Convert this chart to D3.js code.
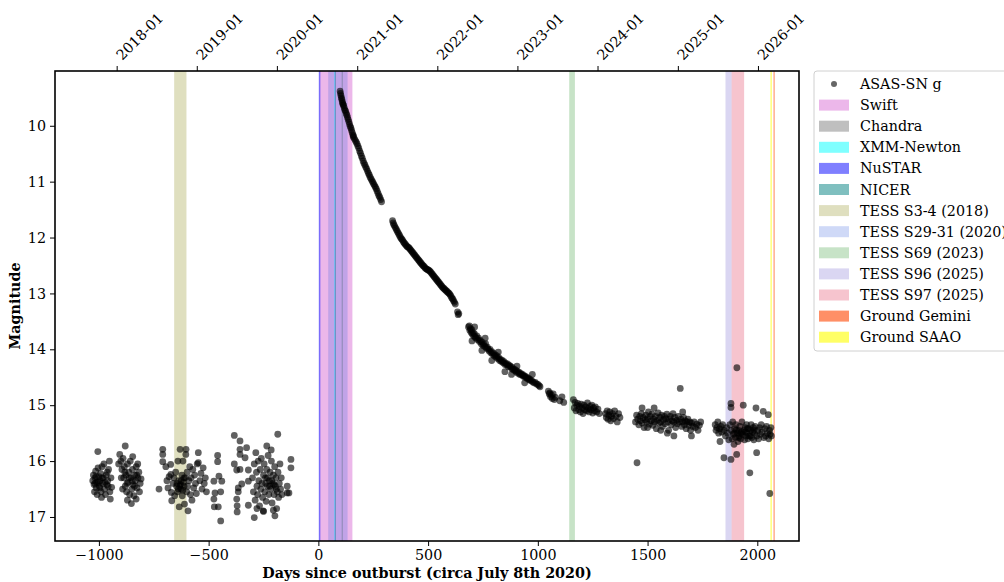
<!DOCTYPE html>
<html>
<head>
<meta charset="utf-8">
<script src="https://cdn.jsdelivr.net/npm/d3@7"></script>
<style>
  body { margin: 0; background: #fff; }
  svg text { font-family: "DejaVu Serif", "Liberation Serif", serif; }
</style>
</head>
<body>
<div id="chart"></div>
<script>
// ASAS-SN g photometry, [days since outburst, magnitude]
const quietPoints = [
  [-1005,15.83],[-1025,16.25],[-1022,16.42],[-1020,16.55],[-1018,16.3],[-1015,16.18],[-1012,16.48],[-1010,16.38],
  [-1008,16.6],[-1004,16.12],[-1000,16.28],[-998,16.45],[-995,16.35],[-992,16.22],[-990,16.55],[-986,16.1],
  [-983,16.4],[-980,16.3],[-977,16.05],[-974,16.5],[-970,16.6],[-967,16.25],[-964,16.42],[-960,16.35],
  [-956,16.15],[-952,16.0],[-950,16.55],[-948,16.68],[-945,16.3],[-942,16.47],[-988,16.65],[-1028,16.35],
  [-1018,16.4],[-1012,16.28],[-1002,16.38],[-996,16.48],[-985,16.3],[-972,16.38],[-962,16.2],[-958,16.45],
  [-880,15.73],[-905,15.88],[-910,16.05],[-900,16.0],[-895,16.15],[-890,15.95],[-887,16.3],[-884,16.1],
  [-880,16.45],[-877,16.25],[-874,16.55],[-870,16.05],[-867,16.38],[-864,16.2],[-860,16.6],[-857,16.0],
  [-854,16.3],[-850,16.5],[-847,16.15],[-844,16.42],[-840,16.62],[-837,16.25],[-834,16.35],[-830,16.1],
  [-826,16.48],[-822,16.3],[-818,16.2],[-815,16.55],[-812,16.4],[-852,16.76],[-830,16.68],[-846,15.92],
  [-823,16.05],[-808,16.32],[-892,16.5],[-870,16.7],[-898,16.3],[-882,16.2],[-872,16.4],[-862,16.3],
  [-848,16.35],[-838,16.45],[-828,16.25],
  [-726,16.5],[-709,15.79],[-709,15.88],[-709,16.01],[-695,16.1],[-690,16.35],[-685,16.48],[-680,16.28],
  [-673,16.06],[-672,16.24],[-670,16.56],[-668,16.71],[-662,16.4],[-658,16.3],[-655,16.62],[-650,16.2],
  [-646,16.45],[-642,16.55],[-640,16.0],[-636,16.35],[-634,16.82],[-630,15.79],[-628,16.42],[-626,16.5],
  [-622,16.25],[-620,16.62],[-617,16.0],[-615,16.38],[-612,16.45],[-610,16.77],[-607,16.3],[-604,15.88],
  [-603,15.79],[-600,16.55],[-598,16.2],[-596,16.45],[-594,16.89],[-590,16.35],[-586,16.1],[-583,16.6],
  [-580,16.3],[-576,16.7],[-572,16.15],[-568,16.48],[-564,16.25],[-560,16.4],[-556,16.58],[-552,16.05],
  [-547,15.85],[-547,16.03],[-540,16.35],[-535,16.22],[-530,16.5],[-525,16.12],[-520,16.4],[-515,16.3],[-510,16.55],
  [-644,16.4],[-638,16.5],[-632,16.45],[-625,16.35],[-618,16.52],[-612,16.3],
  [-459,15.9],[-459,16.01],[-453,16.27],[-476,16.36],[-440,16.36],[-445,16.55],[-471,16.57],[-476,16.68],
  [-456,16.82],[-474,16.82],[-445,17.07],
  [-383,15.54],[-357,15.64],[-357,15.79],[-357,15.88],[-327,15.76],[-334,15.94],[-383,16.05],[-372,16.16],
  [-357,16.15],[-319,16.16],[-319,16.36],[-349,16.41],[-365,16.48],[-365,16.55],[-372,16.68],[-370,16.8],
  [-370,16.91],[-319,16.79],[-292,17.01],[-235,15.73],[-185,15.52],[-198,16.98],[-251,16.89],[-125,15.97],
  [-125,16.12],[-142,16.45],[-142,16.57],[-134,16.57],
  [-300,16.3],[-296,16.55],[-292,16.05],[-288,16.7],[-285,15.85],[-282,16.2],[-280,16.45],[-277,16.6],
  [-274,16.0],[-271,16.35],[-268,16.8],[-265,16.15],[-262,16.5],[-260,15.95],[-257,16.4],[-254,16.65],
  [-250,16.25],[-247,16.05],[-244,16.55],[-241,16.3],[-238,16.72],[-235,16.15],[-232,16.45],[-229,15.9],
  [-226,16.6],[-223,16.35],[-220,16.2],[-217,16.5],[-214,16.0],[-211,16.75],[-208,16.4],[-205,16.25],
  [-202,16.6],[-199,16.1],[-196,16.45],[-193,16.3],[-190,16.85],[-187,16.55],[-184,16.2],[-181,16.65],
  [-178,16.4],[-175,16.05],[-172,16.5],[-169,16.3],[-166,16.6],[-280,16.85],[-250,16.9],[-215,15.8],[-205,16.88],
  [-240,16.4],[-232,16.3],[-222,16.45],[-212,16.35],[-202,16.42],[-192,16.5]
];

const decayPoints = [
  [99,9.38],[101,9.42],[103,9.46],[105,9.5],[107,9.53],[109,9.57],[111,9.6],[113,9.62],[115,9.64],[118,9.68],[121,9.72],
  [124,9.74],[127,9.78],[130,9.81],[133,9.85],[136,9.89],[139,9.93],[142,9.97],[145,10.01],[148,10.04],[151,10.08],
  [154,10.12],[157,10.16],[159,10.2],[160,10.18],[164,10.23],[168,10.26],[172,10.29],[176,10.32],[180,10.36],[184,10.4],
  [188,10.45],[192,10.49],[196,10.54],[200,10.58],[204,10.63],[208,10.67],[212,10.7],[216,10.74],[220,10.77],
  [224,10.81],[228,10.85],[232,10.88],[236,10.92],[240,10.95],[244,10.98],[248,11.01],[252,11.04],[256,11.07],
  [260,11.1],[264,11.13],[268,11.17],[272,11.21],[276,11.25],[280,11.28],[284,11.32],[288,11.36],
  [338,11.7],[341,11.74],[344,11.77],[348,11.8],[352,11.83],[356,11.86],[360,11.89],[364,11.92],[368,11.95],
  [372,11.98],[376,12.01],[380,12.03],[384,12.05],[388,12.08],[392,12.1],[396,12.12],[400,12.14],[404,12.16],
  [408,12.17],[412,12.18],[416,12.2],[420,12.22],[424,12.24],[428,12.26],[432,12.28],[436,12.3],[440,12.32],
  [444,12.34],[448,12.36],[452,12.38],[456,12.4],[460,12.42],[464,12.44],[468,12.46],[472,12.48],[476,12.5],
  [480,12.51],[484,12.53],[488,12.55],[492,12.56],[496,12.57],[500,12.58],[504,12.59],[508,12.6],[512,12.62],
  [516,12.64],[520,12.66],[524,12.68],[528,12.7],[532,12.72],[536,12.74],[540,12.76],[544,12.78],[548,12.8],
  [552,12.82],[556,12.84],[560,12.86],[564,12.88],[568,12.9],[572,12.91],[576,12.93],[580,12.94],[584,12.96],
  [588,12.97],[592,12.99],[596,13.0],[600,13.02],[604,13.05],[608,13.08],[612,13.1],[616,13.13],[620,13.16],
  [624,13.19],[634,13.33],[637,13.38],[640,13.36],
  [684,13.6],[688,13.58],[690,13.66],[693,13.63],[696,13.7],[699,13.65],[702,13.73],[705,13.7],[708,13.76],
  [711,13.72],[714,13.78],[718,13.8],[722,13.76],[726,13.83],[730,13.8],[734,13.86],[738,13.84],[742,13.9],
  [746,13.87],[750,13.93],[754,13.91],[758,13.95],[762,13.9],[766,13.98],[770,13.96],[774,14.0],[778,14.03],
  [782,14.0],[786,14.06],[790,14.04],[794,14.09],[798,14.07],[802,14.12],[806,14.1],[810,14.14],[814,14.12],
  [818,14.17],[822,14.15],[826,14.2],[830,14.18],[834,14.22],[838,14.2],[842,14.24],[846,14.22],[850,14.27],
  [854,14.25],[858,14.28],[862,14.26],[866,14.31],[870,14.29],[874,14.3],[878,14.34],[882,14.32],[886,14.36],
  [890,14.35],[894,14.38],[898,14.37],[902,14.41],[906,14.39],[910,14.43],[914,14.41],[918,14.45],[922,14.43],
  [926,14.46],[930,14.45],[934,14.48],[938,14.47],[942,14.5],[946,14.49],[950,14.52],[954,14.51],[958,14.54],
  [962,14.53],[966,14.56],[970,14.55],[976,14.58],[982,14.6],[988,14.59],[994,14.62],[1000,14.63],[1006,14.65],
  [1010,14.67],[700,13.85],[712,13.6],[745,14.02],[760,13.8],[790,14.2],[820,14.05],[850,14.4],[880,14.45],
  [905,14.3],[940,14.6],[975,14.45]
];

const latePoints = [
  [1048,14.75],[1052,14.8],[1055,14.78],[1058,14.85],[1062,14.82],[1066,14.88],[1070,14.8],[1075,14.9],
  [1080,14.86],[1100,14.92],[1110,14.85],[1118,14.95],
  [1162,14.9],[1166,15.05],[1170,14.95],[1174,15.1],[1178,15.0],[1182,14.97],[1186,15.08],[1190,15.02],
  [1194,15.12],[1198,14.98],[1202,15.05],[1206,15.15],[1210,15.0],[1214,15.08],[1218,15.03],[1222,15.1],
  [1226,14.96],[1230,15.06],[1234,15.12],[1238,15.02],[1242,15.08],[1246,15.0],[1250,15.14],[1254,15.05],
  [1258,15.1],[1262,15.03],[1268,15.12],[1274,15.07],[1280,15.15],
  [1308,15.15],[1312,15.22],[1316,15.1],[1320,15.25],[1324,15.18],[1328,15.12],[1332,15.28],[1336,15.2],
  [1340,15.15],[1345,15.24],[1350,15.1],[1356,15.2],[1362,15.3],[1368,15.15],[1374,15.22],
  [1445,15.3],[1450,15.18],[1452,16.03],[1455,15.25],[1460,15.35],[1464,15.2],[1468,15.28],[1472,15.15],
  [1476,15.32],[1480,15.22],[1484,15.4],[1488,15.26],[1492,15.18],[1496,15.3],[1500,15.24],[1504,15.12],
  [1508,15.34],[1512,15.2],[1516,15.28],[1520,15.16],[1524,15.36],[1528,15.25],[1532,15.3],[1536,15.2],
  [1540,15.42],[1544,15.27],[1548,15.14],[1552,15.32],[1556,15.22],[1560,15.3],[1564,15.18],[1568,15.38],
  [1572,15.26],[1576,15.2],[1580,15.33],[1584,15.24],[1588,15.16],[1592,15.3],[1596,15.45],[1600,15.25],
  [1604,15.2],[1608,15.35],[1612,15.28],[1616,15.15],[1620,15.3],[1624,15.22],[1628,15.4],[1632,15.27],
  [1636,15.33],[1640,15.2],[1644,15.3],[1649,14.7],[1652,15.25],[1656,15.38],[1660,15.3],[1664,15.22],
  [1668,15.35],[1672,15.28],[1676,15.42],[1680,15.3],[1684,15.25],[1688,15.36],[1692,15.3],[1696,15.45],
  [1700,15.32],[1706,15.38],[1712,15.3],[1718,15.4],[1724,15.34],[1730,15.45],[1736,15.36],[1742,15.3],
  [1475,15.05],[1530,15.05],[1590,15.5],[1620,15.55],[1700,15.55],[1560,15.45],[1500,15.4],[1660,15.12],
  [1808,15.35],[1812,15.45],[1816,15.4],[1820,15.3],[1824,15.5],[1828,15.42],[1830,15.65],[1834,15.38],
  [1838,15.48],[1842,15.35],[1848,15.94],[1850,15.45],[1855,15.55],[1860,15.4],[1865,15.5],[1870,15.62],
  [1875,15.35],[1880,14.97],[1880,15.04],[1880,15.97],[1882,15.45],[1885,15.6],[1888,15.3],[1891,15.52],
  [1894,15.7],[1897,15.42],[1900,15.58],[1903,15.35],[1906,15.88],[1907,14.33],[1909,15.5],[1912,15.65],
  [1915,15.45],[1918,15.55],[1921,15.38],[1924,15.6],[1927,15.48],[1930,15.3],[1933,15.52],[1936,15.0],
  [1939,15.45],[1942,15.62],[1945,15.4],[1948,15.55],[1951,15.35],[1954,15.5],[1957,15.6],[1960,15.42],
  [1963,15.55],[1966,16.21],[1969,15.45],[1972,15.35],[1975,15.58],[1978,15.48],[1981,15.4],[1984,15.62],
  [1987,15.5],[1990,15.38],[1994,15.05],[1997,15.85],[1998,15.55],[2002,15.45],[2006,15.6],[2010,15.4],
  [2014,15.52],[2018,15.35],[2022,15.48],[2027,15.11],[2030,15.58],[2034,15.42],[2038,15.55],[2042,15.38],
  [2046,15.5],[2050,15.17],[2052,15.6],[2056,15.45],[2058,15.52],[2057,16.58],[2062,15.4],[2064,15.55],
  [1895,15.5],[1905,15.45],[1915,15.58],[1925,15.5],[1945,15.48],[1955,15.42],[1968,15.55],[1985,15.45]
];

// Observation windows: label, start day, end day, colour, alpha
const bandLabels = ["Swift", "Chandra", "XMM-Newton", "NuSTAR", "NICER", "TESS S3-4 (2018)",
  "TESS S29-31 (2020)", "TESS S69 (2023)", "TESS S96 (2025)", "TESS S97 (2025)", "Ground Gemini", "Ground SAAO"];
const bandStart = [5, 106, 72, 2, 76, -657, 45, 1143, 1855, 1883, 2074, 2060];
const bandEnd   = [155, 112, 76, 9, 80, -601, 133, 1169, 1883, 1940, 2079, 2066];
const bandColors = ["orchid", "gray", "cyan", "blue", "teal", "olive",
  "royalblue", "green", "slateblue", "crimson", "orangered", "yellow"];
const bandAlpha = [0.5, 0.5, 0.5, 0.5, 0.5, 0.25, 0.25, 0.22, 0.25, 0.25, 0.6, 0.6];

const xTicks = [-1000, -500, 0, 500, 1000, 1500, 2000];
const yTicks = [10, 11, 12, 13, 14, 15, 16, 17];
const yearLabels = ["2018-01", "2019-01", "2020-01", "2021-01", "2022-01", "2023-01", "2024-01", "2025-01", "2026-01"];

const width = 1004, height = 582;
const margin = {top: 71, right: 205, bottom: 41, left: 55};
const serif = "'DejaVu Serif', 'Liberation Serif', serif";
const fontSize = 14.3;

const svg = d3.select("#chart").append("svg")
  .attr("width", width)
  .attr("height", height)
  .attr("font-family", serif);

const x = d3.scaleLinear()
  .domain([-1200, 2190])
  .range([margin.left, width - margin.right]);

const y = d3.scaleLinear()
  .domain([9.02, 17.43])
  .range([margin.top, height - margin.bottom]);

svg.append("clipPath").attr("id", "plot-clip")
  .append("rect")
  .attr("x", margin.left).attr("y", margin.top)
  .attr("width", width - margin.left - margin.right)
  .attr("height", height - margin.top - margin.bottom);

const plot = svg.append("g").attr("clip-path", "url(#plot-clip)");

// shaded windows
plot.selectAll(".band")
  .data(bandLabels)
  .enter()
  .append("rect")
  .attr("class", "band")
  .attr("x", (d, i) => x(bandStart[i]))
  .attr("width", (d, i) => x(bandEnd[i]) - x(bandStart[i]))
  .attr("y", margin.top)
  .attr("height", height - margin.top - margin.bottom)
  .attr("fill", (d, i) => bandColors[i])
  .attr("fill-opacity", (d, i) => bandAlpha[i]);

// light curve
const allPoints = [...quietPoints, ...decayPoints, ...latePoints];
plot.selectAll(".pt")
  .data(allPoints)
  .enter()
  .append("circle")
  .attr("class", "pt")
  .attr("cx", d => x(d[0]))
  .attr("cy", d => y(d[1]))
  .attr("r", 3.4)
  .attr("fill", "black")
  .attr("fill-opacity", 0.62);

// axes
const fmt = d => (d < 0 ? "\u2212" + Math.abs(d) : String(d));

const bottomAxis = svg.append("g")
  .attr("transform", `translate(0, ${height - margin.bottom})`)
  .call(d3.axisBottom(x).tickValues(xTicks).tickFormat(fmt).tickSize(5).tickPadding(4).tickSizeOuter(0));

const leftAxis = svg.append("g")
  .attr("transform", `translate(${margin.left}, 0)`)
  .call(d3.axisLeft(y).tickValues(yTicks).tickSize(5).tickPadding(4).tickSizeOuter(0));

const refDay = Date.UTC(2020, 6, 8);
const yearDays = yearLabels.map(s => (Date.UTC(+s.slice(0, 4), 0, 1) - refDay) / 864e5);

const topAxis = svg.append("g")
  .attr("transform", `translate(0, ${margin.top})`)
  .call(d3.axisTop(x).tickValues(yearDays).tickFormat((d, i) => yearLabels[i]).tickSize(5).tickSizeOuter(0));

topAxis.selectAll("text")
  .attr("y", 0)
  .attr("dy", 0)
  .attr("text-anchor", "start")
  .attr("transform", "translate(5, -10) rotate(-45)");

[bottomAxis, leftAxis, topAxis].forEach(g => {
  g.attr("font-family", null).attr("font-size", null);
  g.select(".domain").remove();
  g.selectAll("text").attr("font-size", fontSize).attr("fill", "black").attr("font-family", serif);
  g.selectAll("line").attr("stroke", "black").attr("stroke-width", 1);
});

// frame
svg.append("rect")
  .attr("x", margin.left).attr("y", margin.top)
  .attr("width", width - margin.left - margin.right)
  .attr("height", height - margin.top - margin.bottom)
  .attr("fill", "none")
  .attr("stroke", "black")
  .attr("stroke-width", 1.6);

// axis titles
svg.append("text")
  .attr("x", (margin.left + width - margin.right) / 2)
  .attr("y", 578)
  .attr("text-anchor", "middle")
  .attr("font-size", fontSize)
  .attr("font-weight", "bold")
  .text("Days since outburst (circa July 8th 2020)");

svg.append("text")
  .attr("transform", `translate(20, ${(margin.top + height - margin.bottom) / 2}) rotate(-90)`)
  .attr("text-anchor", "middle")
  .attr("font-size", fontSize)
  .attr("font-weight", "bold")
  .text("Magnitude");

// legend
const legend = svg.append("g").attr("transform", "translate(814, 71)");
legend.append("rect")
  .attr("width", 200).attr("height", 280)
  .attr("rx", 3)
  .attr("fill", "white")
  .attr("stroke", "#d0d0d0");

const rowH = 21.1;
legend.append("circle")
  .attr("cx", 20).attr("cy", 13)
  .attr("r", 3)
  .attr("fill", "black").attr("fill-opacity", 0.6);
legend.append("text")
  .attr("x", 46).attr("y", 13)
  .attr("dy", "0.35em")
  .attr("font-size", fontSize)
  .text("ASAS-SN g");

const rows = legend.selectAll(".row")
  .data(bandLabels)
  .enter()
  .append("g")
  .attr("class", "row")
  .attr("transform", (d, i) => `translate(0, ${13 + rowH * (i + 1)})`);

rows.append("rect")
  .attr("x", 5).attr("y", -5.5)
  .attr("width", 30).attr("height", 11)
  .attr("fill", (d, i) => bandColors[i])
  .attr("fill-opacity", (d, i) => bandAlpha[i]);

rows.append("text")
  .attr("x", 46)
  .attr("dy", "0.35em")
  .attr("font-size", fontSize)
  .text(d => d);
</script>
</body>
</html>
